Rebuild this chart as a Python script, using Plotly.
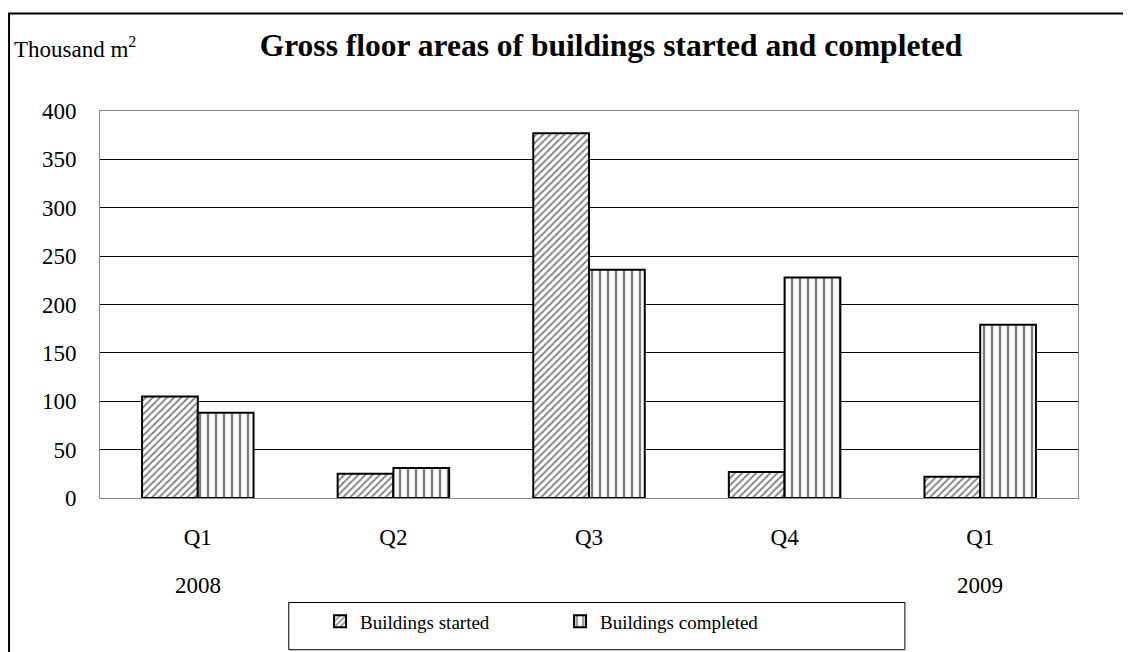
import plotly.graph_objects as go

# Data
quarters = ["Q1", "Q2", "Q3", "Q4", "Q1"]
years = ["2008", "", "", "", "2009"]
started = [105, 25, 377, 27, 22]
completed = [88, 31, 236, 228, 179]

x_pos = list(range(len(quarters)))
FONT = "Liberation Serif"

fig = go.Figure()

fig.add_trace(go.Bar(
    x=x_pos, y=started, name="Buildings started",
    marker=dict(color="white", line=dict(color="black", width=2),
                pattern=dict(shape="/", fgcolor="black", bgcolor="white", size=5, solidity=0.35)),
))
fig.add_trace(go.Bar(
    x=x_pos, y=completed, name="Buildings completed",
    marker=dict(color="white", line=dict(color="black", width=2),
                pattern=dict(shape="|", fgcolor="black", bgcolor="white", size=8, solidity=0.3)),
))

# year labels under the quarter ticks
for i, yr in enumerate(years):
    if yr:
        fig.add_annotation(x=x_pos[i], y=-0.226, xref="x", yref="paper", yanchor="middle",
                           text=yr, showarrow=False,
                           font=dict(size=23, family=FONT, color="black"))

# axis unit label
fig.add_annotation(x=-0.09, y=1.164, xref="paper", yref="paper", xanchor="left", yanchor="middle",
                   text="Thousand m<sup>2</sup>", showarrow=False,
                   font=dict(size=23, family=FONT, color="black"))

# outer frame and legend box
fig.add_shape(type="rect", xref="paper", yref="paper", x0=-0.093, x1=1.2, y0=-0.6, y1=1.252,
              line=dict(color="black", width=2), layer="below")
fig.add_shape(type="rect", xref="paper", yref="paper", x0=0.193, x1=0.823, y0=-0.392, y1=-0.27,
              line=dict(color="black", width=1), layer="below")

# page body adds an 8px offset, so the figure is shrunk to compensate
fig.update_layout(
    width=1123, height=644,
    margin=dict(l=92, r=53, t=103, b=152),
    paper_bgcolor="white", plot_bgcolor="white",
    font=dict(family=FONT, size=23, color="black"),
    title=dict(text="<b>Gross floor areas of buildings started and completed</b>",
               x=0.537, xanchor="center", y=0.9425, yanchor="middle",
               font=dict(size=31.5, family=FONT, color="black")),
    barmode="group", bargap=0.43, bargroupgap=0,
    showlegend=True,
    legend=dict(orientation="h", x=0.225, y=-0.27, xanchor="left", yanchor="top",
                bgcolor="rgba(0,0,0,0)", borderwidth=0, entrywidth=195,
                font=dict(size=19, family=FONT, color="black")),
)

fig.update_xaxes(
    tickmode="array", tickvals=x_pos, ticktext=quarters,
    range=[-0.5, 4.5], showline=True, linecolor="#888", linewidth=1, mirror=True,
    showgrid=False, ticks="", ticklabelstandoff=18,
)
fig.update_yaxes(
    range=[0, 400], dtick=50, showgrid=True, gridcolor="black", gridwidth=1,
    showline=True, linecolor="#888", linewidth=1, mirror=True,
    ticks="", ticklabelstandoff=18, zeroline=False,
)

fig.write_html("out.html")
